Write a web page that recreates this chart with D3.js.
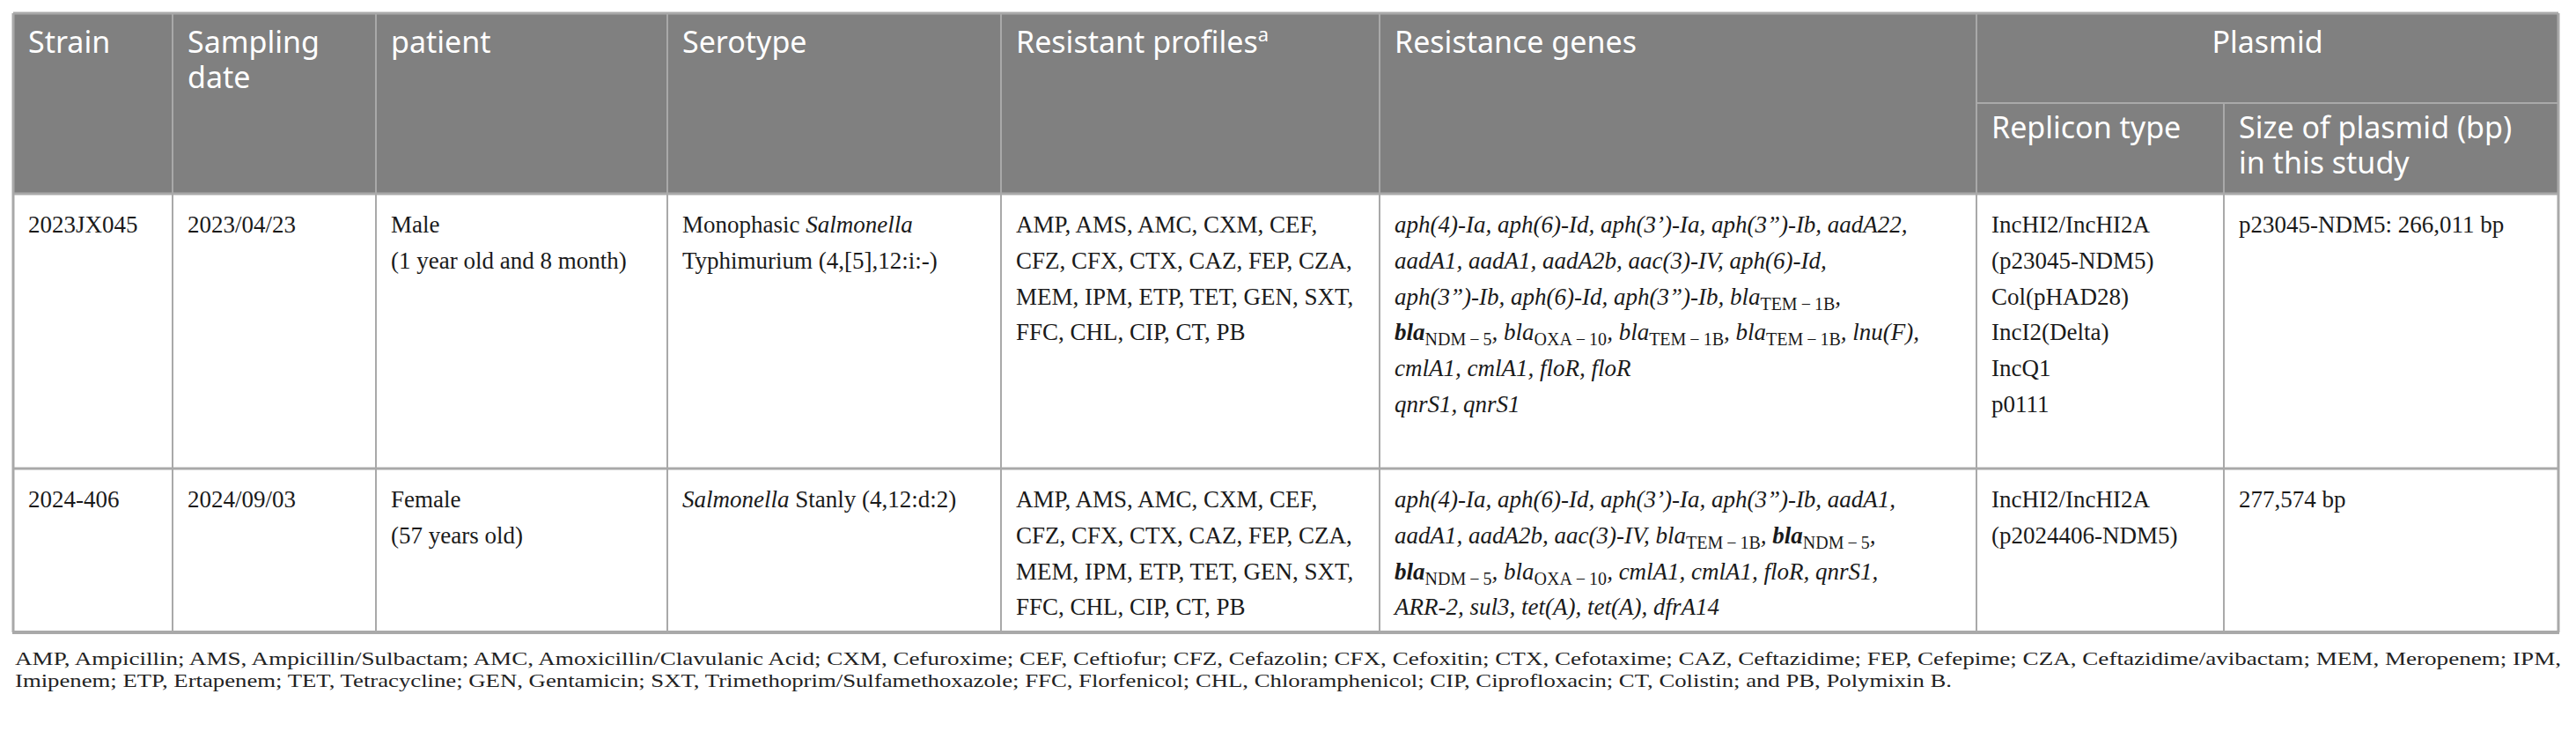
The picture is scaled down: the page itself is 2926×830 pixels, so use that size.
<!DOCTYPE html>
<html>
<head>
<meta charset="utf-8">
<script src="https://cdn.jsdelivr.net/npm/d3@7"></script>
<style>
  body { margin: 0; background: #fff; }
  svg { display: block; }
</style>
</head>
<body>
<div id="container"></div>
<script>
/* DATA */
// markup: *x* = italic toggle, #x# = bold, _{x} = upright subscript
const strains = ["2023JX045", "2024-406"];
const samplingDates = ["2023/04/23", "2024/09/03"];
const patients = [
  ["Male", "(1 year old and 8 month)"],
  ["Female", "(57 years old)"]
];
const serotypes = [
  ["Monophasic *Salmonella*", "Typhimurium (4,[5],12:i:-)"],
  ["*Salmonella* Stanly (4,12:d:2)"]
];
const resistantProfiles = [
  ["AMP, AMS, AMC, CXM, CEF,", "CFZ, CFX, CTX, CAZ, FEP, CZA,", "MEM, IPM, ETP, TET, GEN, SXT,", "FFC, CHL, CIP, CT, PB"],
  ["AMP, AMS, AMC, CXM, CEF,", "CFZ, CFX, CTX, CAZ, FEP, CZA,", "MEM, IPM, ETP, TET, GEN, SXT,", "FFC, CHL, CIP, CT, PB"]
];
const resistanceGenes = [
  ["aph(4)-Ia, aph(6)-Id, aph(3’)-Ia, aph(3”)-Ib, aadA22,",
   "aadA1, aadA1, aadA2b, aac(3)-IV, aph(6)-Id,",
   "aph(3”)-Ib, aph(6)-Id, aph(3”)-Ib, bla_{TEM\u2009\u2212\u20091B},",
   "#bla#_{NDM\u2009\u2212\u20095}, bla_{OXA\u2009\u2212\u200910}, bla_{TEM\u2009\u2212\u20091B}, bla_{TEM\u2009\u2212\u20091B}, lnu(F),",
   "cmlA1, cmlA1, floR, floR",
   "qnrS1, qnrS1"],
  ["aph(4)-Ia, aph(6)-Id, aph(3’)-Ia, aph(3”)-Ib, aadA1,",
   "aadA1, aadA2b, aac(3)-IV, bla_{TEM\u2009\u2212\u20091B}, #bla#_{NDM\u2009\u2212\u20095},",
   "#bla#_{NDM\u2009\u2212\u20095}, bla_{OXA\u2009\u2212\u200910}, cmlA1, cmlA1, floR, qnrS1,",
   "ARR-2, sul3, tet(A), tet(A), dfrA14"]
];
const repliconTypes = [
  ["IncHI2/IncHI2A", "(p23045-NDM5)", "Col(pHAD28)", "IncI2(Delta)", "IncQ1", "p0111"],
  ["IncHI2/IncHI2A", "(p2024406-NDM5)"]
];
const plasmidSizes = [
  ["p23045-NDM5: 266,011 bp"],
  ["277,574 bp"]
];
const columnKeys = ["strain", "date", "patient", "serotype", "profiles", "genes", "replicon", "size"];
const columnHeaders = [["Strain"], ["Sampling", "date"], ["patient"], ["Serotype"], ["Resistant profiles^a"], ["Resistance genes"]];
const groupHeader = "Plasmid";
const subHeaders = [["Replicon type"], ["Size of plasmid (bp)", "in this study"]];
const abbreviations = [
  ["AMP", "Ampicillin"], ["AMS", "Ampicillin/Sulbactam"], ["AMC", "Amoxicillin/Clavulanic Acid"],
  ["CXM", "Cefuroxime"], ["CEF", "Ceftiofur"], ["CFZ", "Cefazolin"], ["CFX", "Cefoxitin"],
  ["CTX", "Cefotaxime"], ["CAZ", "Ceftazidime"], ["FEP", "Cefepime"], ["CZA", "Ceftazidime/avibactam"],
  ["MEM", "Meropenem"], ["IPM", "Imipenem"], ["ETP", "Ertapenem"], ["TET", "Tetracycline"],
  ["GEN", "Gentamicin"], ["SXT", "Trimethoprim/Sulfamethoxazole"], ["FFC", "Florfenicol"],
  ["CHL", "Chloramphenicol"], ["CIP", "Ciprofloxacin"], ["CT", "Colistin"], ["PB", "Polymixin B"]
];

/* LAYOUT */
const width = 2926, height = 830;
const colEdges = [15, 196, 427, 758, 1137, 1567, 2245, 2526, 2906];
const headerTop = 15, subHeaderY = 117, headerBottom = 220;
const rowTops = [220, 532], tableBottom = 718;
const padX = 17, lineH = 40.8, firstLine = 44, headLineH = 40;
const serif = "'Liberation Serif', 'Times New Roman', serif";
const sans = "'Noto Sans', 'Open Sans', sans-serif";
const gridColor = "#a9a9a9";

/* SCALES */
const xLeft = d3.scaleOrdinal().domain(columnKeys).range(colEdges.slice(0, -1));
const xRight = d3.scaleOrdinal().domain(columnKeys).range(colEdges.slice(1));
const yLine = d3.scaleLinear().domain([0, 1]).range([0, lineH]);

const svg = d3.select("#container").append("svg")
  .attr("width", width)
  .attr("height", height);

// header background
svg.append("rect")
  .attr("x", colEdges[0]).attr("y", headerTop)
  .attr("width", colEdges[colEdges.length - 1] - colEdges[0])
  .attr("height", headerBottom - headerTop)
  .attr("fill", "#808080");

// rich text helper, appends tspans for one line
function rich(textSel, str, baseItalic, x, lineDy) {
  const parts = str.split(/(\*[^*]+\*|#[^#]+#|_\{[^}]+\})/).filter(s => s);
  let shifted = false;
  parts.forEach((p, k) => {
    const t = textSel.append("tspan");
    if (k === 0) t.attr("x", x);
    let dy = 0;
    if (p.startsWith("_{")) {
      t.text(p.slice(2, -1)).style("font-style", "normal").style("font-size", "20px");
      dy = 6;
    } else if (p.startsWith("*")) {
      t.text(p.slice(1, -1)).style("font-style", baseItalic ? "normal" : "italic");
    } else if (p.startsWith("#")) {
      t.text(p.slice(1, -1)).style("font-weight", "bold");
    } else {
      t.text(p);
    }
    const d = dy - (shifted ? 6 : 0) + (k === 0 ? lineDy : 0);
    if (d) t.attr("dy", d);
    shifted = dy > 0;
  });
  return shifted ? 6 : 0;
}

/* HEADER TEXT */
const head = svg.append("g").attr("fill", "#fff").style("font-family", sans).style("font-size", "34px");
columnHeaders.forEach((lines, i) => {
  const x = xLeft(columnKeys[i]) + padX;
  const t = head.append("text").attr("x", x).attr("y", 60);
  lines.forEach((ln, j) => {
    const [main, sup] = ln.split("^");
    t.append("tspan").attr("x", x).attr("dy", j ? headLineH : 0).text(main);
    if (sup) t.append("tspan").text(sup).attr("dy", -13).style("font-size", "22px");
  });
});
head.append("text")
  .attr("x", (xLeft("replicon") + xRight("size")) / 2)
  .attr("y", 60)
  .attr("text-anchor", "middle")
  .text(groupHeader);
subHeaders.forEach((lines, i) => {
  const x = xLeft(columnKeys[6 + i]) + padX;
  const t = head.append("text").attr("x", x).attr("y", 157);
  lines.forEach((ln, j) => {
    t.append("tspan").attr("x", x).attr("dy", j ? headLineH : 0).text(ln);
  });
});

/* BODY TEXT */
const body = svg.append("g").attr("fill", "#1a1a1a").style("font-family", serif).style("font-size", "27px");
const cellData = [
  strains.map(s => [s]), samplingDates.map(s => [s]), patients, serotypes,
  resistantProfiles, resistanceGenes, repliconTypes, plasmidSizes
];
cellData.forEach((col, ci) => {
  col.forEach((lines, ri) => {
    const x = xLeft(columnKeys[ci]) + padX;
    const isGene = columnKeys[ci] === "genes";
    const t = body.append("text")
      .attr("x", x)
      .attr("y", rowTops[ri] + firstLine);
    if (isGene) t.style("font-style", "italic");
    let carry = 0;
    lines.forEach((ln, li) => {
      carry = rich(t, ln, isGene, x, li ? yLine(1) - carry : 0);
    });
  });
});

/* GRID LINES */
const grid = svg.append("g").attr("stroke", gridColor).attr("fill", "none");
colEdges.forEach((x, i) => {
  const y0 = (i === 7) ? subHeaderY : headerTop;
  grid.append("line")
    .attr("x1", x).attr("x2", x)
    .attr("y1", y0).attr("y2", tableBottom)
    .attr("stroke-width", (i === 0 || i === colEdges.length - 1) ? 3 : 2);
});
grid.append("line")
  .attr("x1", xLeft("replicon")).attr("x2", xRight("size"))
  .attr("y1", subHeaderY).attr("y2", subHeaderY)
  .attr("stroke-width", 2);
[headerTop, headerBottom, rowTops[1]].forEach(y => {
  grid.append("line")
    .attr("x1", colEdges[0]).attr("x2", colEdges[colEdges.length - 1])
    .attr("y1", y).attr("y2", y)
    .attr("stroke-width", 3);
});
grid.append("line")
  .attr("x1", colEdges[0] - 1).attr("x2", colEdges[colEdges.length - 1] + 1)
  .attr("y1", tableBottom).attr("y2", tableBottom)
  .attr("stroke-width", 4);

/* FOOTNOTE */
const fullNote = abbreviations.map(d => d[0] + ", " + d[1]).join("; ")
  .replace("; PB,", "; and PB,") + ".";
const cut = fullNote.indexOf("Imipenem");
const noteLines = [fullNote.slice(0, cut).trim(), fullNote.slice(cut)];
const noteLens = [2909 - 17, 2217 - 17];
const note = svg.append("text")
  .attr("fill", "#222")
  .attr("x", 17).attr("y", 755)
  .style("font-family", serif).style("font-size", "22px");
noteLines.forEach((ln, i) => {
  note.append("tspan")
    .attr("x", 17)
    .attr("dy", i ? 25 : 0)
    .attr("textLength", noteLens[i])
    .attr("lengthAdjust", "spacingAndGlyphs")
    .text(ln);
});
</script>
</body>
</html>
